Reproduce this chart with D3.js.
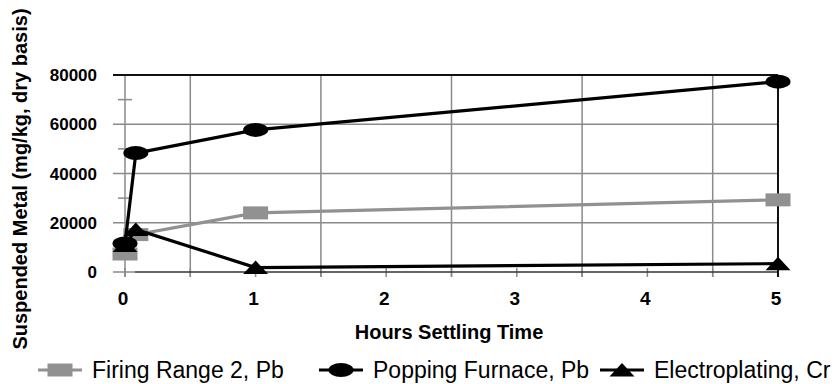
<!DOCTYPE html>
<html>
<head>
<meta charset="utf-8">
<script src="https://cdn.jsdelivr.net/npm/d3@7"></script>
<style>
  body { margin: 0; background: #fff; }
  svg { display: block; font-family: "Liberation Sans", Arial, sans-serif; }
</style>
</head>
<body>
<svg id="chart" width="836" height="384"></svg>
<script>
// hours settling time (first sample at 5 min)
var hours = [0, 0.083, 1, 5];
var seriesNames = ["Firing Range 2, Pb", "Popping Furnace, Pb", "Electroplating, Cr"];
var firingRange = [7300, 15200, 24000, 29300];
var poppingFurnace = [11600, 48300, 57700, 77300];
var electroplating = [10800, 17300, 1800, 3400];
var xTicks = [0, 1, 2, 3, 4, 5];
var yTicks = [0, 20000, 40000, 60000, 80000];

var svg = d3.select("#chart");
var x = d3.scaleLinear().domain([0, 5]).range([125, 778]);
var y = d3.scaleLinear().domain([0, 80000]).range([272, 75]);

var grid = svg.append("g");

// vertical gridlines sit between the labelled hours
grid.selectAll(".vg")
    .data([0.5, 1.5, 2.5, 3.5, 4.5])
    .enter().append("line")
    .attr("x1", function (d) { return x(d); })
    .attr("x2", function (d) { return x(d); })
    .attr("y1", y(80000)).attr("y2", y(0) + 5)
    .attr("stroke", "#8a8a8a").attr("stroke-width", 1.5);

// x tick marks every half hour
grid.selectAll(".xt")
    .data(d3.range(0, 5.01, 0.5))
    .enter().append("line")
    .attr("x1", function (d) { return x(d); })
    .attr("x2", function (d) { return x(d); })
    .attr("y1", y(0) - 4).attr("y2", y(0) + 5)
    .attr("stroke", "#8a8a8a").attr("stroke-width", 1.5);

// horizontal gridlines
grid.selectAll(".hg")
    .data([20000, 40000, 60000])
    .enter().append("line")
    .attr("x1", 113).attr("x2", x(5))
    .attr("y1", function (d) { return y(d); })
    .attr("y2", function (d) { return y(d); })
    .attr("stroke", "#8a8a8a").attr("stroke-width", 1.5);

// minor y ticks
grid.selectAll(".mt")
    .data([10000, 30000, 50000, 70000])
    .enter().append("line")
    .attr("x1", 118).attr("x2", 132)
    .attr("y1", function (d) { return y(d); })
    .attr("y2", function (d) { return y(d); })
    .attr("stroke", "#8a8a8a").attr("stroke-width", 1.5);

// y axis
grid.append("line")
    .attr("x1", x(0)).attr("x2", x(0))
    .attr("y1", y(80000)).attr("y2", y(0) + 5)
    .attr("stroke", "#8a8a8a").attr("stroke-width", 1.5);
grid.append("line")
    .attr("x1", 113).attr("x2", 135)
    .attr("y1", y(0)).attr("y2", y(0))
    .attr("stroke", "#8a8a8a").attr("stroke-width", 1.5);
// x axis line
grid.append("line")
    .attr("x1", 135).attr("x2", x(5))
    .attr("y1", y(0)).attr("y2", y(0))
    .attr("stroke", "#333").attr("stroke-width", 1.5);
// top and right frame
grid.append("line")
    .attr("x1", 113).attr("x2", x(5))
    .attr("y1", y(80000)).attr("y2", y(80000))
    .attr("stroke", "#111").attr("stroke-width", 2);
grid.append("line")
    .attr("x1", x(5)).attr("x2", x(5))
    .attr("y1", y(80000)).attr("y2", y(0) + 5)
    .attr("stroke", "#111").attr("stroke-width", 2);

// tick labels
svg.selectAll(".yl")
    .data(yTicks)
    .enter().append("text")
    .attr("x", 97)
    .attr("y", function (d) { return y(d) + 6; })
    .attr("text-anchor", "end")
    .attr("font-size", 17).attr("font-weight", "bold")
    .text(function (d) { return d; });

svg.selectAll(".xl")
    .data(xTicks)
    .enter().append("text")
    .attr("x", function (d) { return x(d) - 2; })
    .attr("y", 305)
    .attr("text-anchor", "middle")
    .attr("font-size", 19).attr("font-weight", "bold")
    .text(function (d) { return d; });

svg.append("text")
    .attr("x", 449).attr("y", 339)
    .attr("text-anchor", "middle")
    .attr("font-size", 20).attr("font-weight", "bold")
    .text("Hours Settling Time");

svg.append("text")
    .attr("transform", "translate(27,179) rotate(-90)")
    .attr("text-anchor", "middle")
    .attr("font-size", 20).attr("font-weight", "bold")
    .text("Suspended Metal (mg/kg, dry basis)");

// series
var series = [
    { name: seriesNames[0], values: firingRange, color: "#919191", shape: "square" },
    { name: seriesNames[1], values: poppingFurnace, color: "#000", shape: "circle" },
    { name: seriesNames[2], values: electroplating, color: "#000", shape: "triangle" }
];

function drawMarker(g, shape, color, cx, cy) {
    if (shape == "square") {
        g.append("rect")
            .attr("x", cx - 12.5).attr("y", cy - 6.5)
            .attr("width", 25).attr("height", 13)
            .attr("fill", color);
    } else if (shape == "circle") {
        g.append("ellipse")
            .attr("cx", cx).attr("cy", cy)
            .attr("rx", 12.5).attr("ry", 7)
            .attr("fill", color);
    } else {
        g.append("path")
            .attr("d", "M" + cx + "," + (cy - 7) + "L" + (cx + 12.5) + "," + (cy + 6.5) + "L" + (cx - 12.5) + "," + (cy + 6.5) + "Z")
            .attr("fill", color);
    }
}

var line = d3.line()
    .x(function (d, i) { return x(hours[i]); })
    .y(function (d) { return y(d); });

series.forEach(function (s) {
    var g = svg.append("g");
    g.append("path")
        .attr("d", line(s.values))
        .attr("fill", "none")
        .attr("stroke", s.color)
        .attr("stroke-width", 3.2);
    s.values.forEach(function (v, i) {
        drawMarker(g, s.shape, s.color, x(hours[i]), y(v));
    });
});

// legend
var legendX = [60, 341, 622];
series.forEach(function (s, i) {
    var g = svg.append("g");
    g.append("line")
        .attr("x1", legendX[i] - 22).attr("x2", legendX[i] + 22)
        .attr("y1", 370).attr("y2", 370)
        .attr("stroke", s.color).attr("stroke-width", 3.2);
    drawMarker(g, s.shape, s.color, legendX[i], 370);
    g.append("text")
        .attr("x", legendX[i] + 32).attr("y", 378)
        .attr("font-size", 23)
        .text(s.name);
});
</script>
</body>
</html>
